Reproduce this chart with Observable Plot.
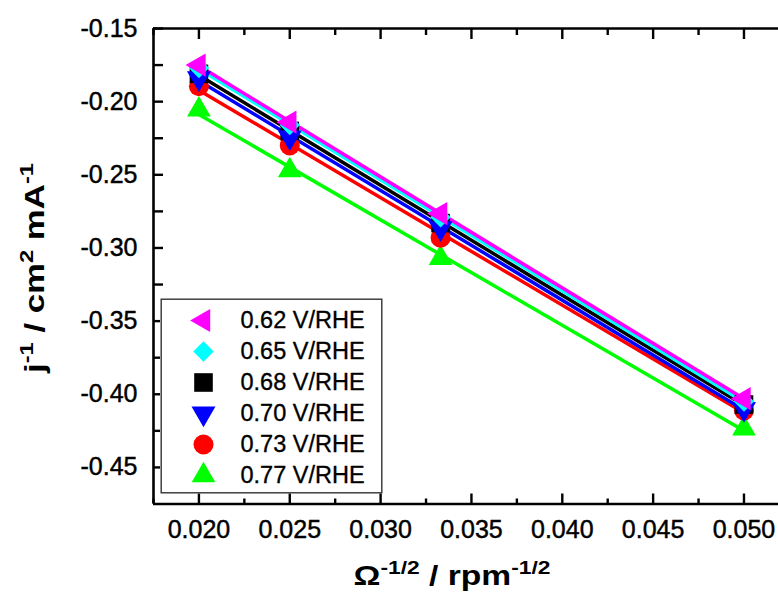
<!DOCTYPE html>
<html><head><meta charset="utf-8">
<script src="https://cdn.jsdelivr.net/npm/d3@7"></script>
<script src="https://cdn.jsdelivr.net/npm/@observablehq/plot@0.6"></script>
<style>
body{margin:0;background:#fff;}
#wrap{position:relative;width:778px;height:594px;overflow:hidden;}
#legend{position:absolute;left:160px;top:298px;}
svg{overflow:visible;}
</style></head><body><div id="wrap"><div id="chart"></div><div id="legend"></div></div>
<script>
// x: Ω^-1/2 (rpm^-1/2)
const omegaInvSqrt = [0.020, 0.025, 0.0333, 0.050];
// j^-1 values per potential
const j_062 = [-0.175, -0.214, -0.2765, -0.403];
const j_065 = [-0.177, -0.216, -0.279, -0.405];
const j_068 = [-0.181, -0.220, -0.283, -0.407];
const j_070 = [-0.184, -0.2245, -0.2865, -0.410];
const j_073 = [-0.1895, -0.230, -0.293, -0.411];
const j_077 = [-0.2055, -0.247, -0.307, -0.4235];
const potentials = ["0.62 V/RHE", "0.65 V/RHE", "0.68 V/RHE", "0.70 V/RHE", "0.73 V/RHE", "0.77 V/RHE"];
const colors = ["#ff00ff", "#00ffff", "#000000", "#0000ff", "#ff0000", "#00ff00"];
const symbols = ["triangle", "diamond2", "square", "triangle", "circle", "triangle"];
const rotations = [-90, 0, 0, 180, 0, 0];
const radii = [8.6, 9.2, 10.5, 8.9, 10, 8.8];
const xTicks = [0.020, 0.025, 0.030, 0.035, 0.040, 0.045, 0.050];
const xMinor = [0.0175, 0.0225, 0.0275, 0.0325, 0.0375, 0.0425, 0.0475];
const yTicks = [-0.15, -0.20, -0.25, -0.30, -0.35, -0.40, -0.45];
const yMinor = [-0.175, -0.225, -0.275, -0.325, -0.375, -0.425];
const xDomain = [0.0175, 0.0519];
const yDomain = [-0.475, -0.15];

const allValues = [j_062, j_065, j_068, j_070, j_073, j_077];
const series = potentials.map((name, i) => ({
  name, color: colors[i], symbol: symbols[i], rotate: rotations[i], r: radii[i],
  data: omegaInvSqrt.map((x, k) => ({x, y: allValues[i][k], name}))
}));

const FONT = "'Liberation Sans', Arial, sans-serif";
const lineOrder = [5, 4, 3, 2, 1, 0];
const dotOrder = [5, 4, 2, 3, 1, 0];
const lineMarks = lineOrder.map(i => Plot.linearRegressionY(series[i].data, {x: "x", y: "y", stroke: series[i].color, strokeWidth: 3.5, ci: 0}));
const dotMarks = dotOrder.map(i => {
  const s = series[i];
  return Plot.dot(s.data, {x: "x", y: "y", fill: s.color, symbol: s.symbol, rotate: s.rotate, r: s.r, stroke: "none"});
});

const chart = Plot.plot({
  width: 778, height: 594,
  marginTop: 28, marginBottom: 90.5, marginLeft: 153, marginRight: 0,
  x: {domain: xDomain},
  y: {domain: yDomain},
  style: {fontFamily: FONT, fontSize: "25px", color: "#000", background: "#fff"},
  marks: [
    ...lineMarks,
    ...dotMarks,
    Plot.ruleY([yDomain[0], yDomain[1]], {stroke: "#000", strokeWidth: 2.6}),
    Plot.ruleX([xDomain[0]], {stroke: "#000", strokeWidth: 2.6}),
    Plot.axisY(yTicks, {anchor: "left", tickSize: -10, tickPadding: 26, tickFormat: d => d.toFixed(2), fontSize: 25, strokeWidth: 2.4, label: null}),
    Plot.axisY(yMinor, {anchor: "left", tickSize: -10, tickFormat: () => "", strokeWidth: 2.4, label: null}),
    Plot.axisX(xTicks, {anchor: "bottom", tickSize: -10, tickPadding: 26, tickFormat: d3.format(".3f"), fontSize: 25, strokeWidth: 2.4, label: null}),
    Plot.axisX(xMinor, {anchor: "bottom", tickSize: -5, tickFormat: () => "", strokeWidth: 2.4, label: null}),
    Plot.axisX(xTicks, {anchor: "top", tickSize: -10, tickFormat: () => "", strokeWidth: 2.4, label: null}),
    Plot.axisX(xMinor, {anchor: "top", tickSize: -6, tickFormat: () => "", strokeWidth: 2.4, label: null})
  ]
});
document.getElementById("chart").appendChild(chart);

const svg = d3.select(chart);
// slightly heavier tick labels, like the reference rendering
svg.selectAll('g[aria-label$="tick label"] text').attr("stroke", "#000").attr("stroke-width", 0.45);

// axis titles with superscripts
function title(g, parts, attrs) {
  const t = g.append("text").attr("font-family", FONT).attr("font-weight", "bold").attr("fill", "#000");
  Object.entries(attrs).forEach(([k, v]) => t.attr(k, v));
  let up = false;
  parts.forEach(([txt, sup]) => {
    const ts = t.append("tspan").text(txt);
    if (sup && !up) { ts.attr("dy", -11).attr("font-size", 19); up = true; }
    else if (sup && up) { ts.attr("font-size", 19); }
    else if (!sup && up) { ts.attr("dy", 11); up = false; }
  });
  return t;
}
title(svg, [["Ω", false], ["-1/2", true], [" / rpm", false], ["-1/2", true]],
  {x: 452, y: 585, "text-anchor": "middle", "font-size": 28, textLength: 197, lengthAdjust: "spacingAndGlyphs"});
title(svg, [["j", false], ["-1", true], [" / cm", false], ["2", true], [" mA", false], ["-1", true]],
  {transform: "translate(44,268) rotate(-90)", "text-anchor": "middle", "font-size": 28, textLength: 210, lengthAdjust: "spacingAndGlyphs"});

// legend
const legendRows = series.map(s => ({name: s.name}));
const legendMarks = [Plot.frame({stroke: "#333", strokeWidth: 1.4, inset: 0.7})];
series.forEach(s => {
  legendMarks.push(Plot.dot([{name: s.name}], {y: "name", frameAnchor: "left", dx: 43, fill: s.color, symbol: s.symbol, rotate: s.rotate, r: s.r, stroke: "none"}));
});
legendMarks.push(Plot.text(legendRows, {y: "name", text: "name", frameAnchor: "left", dx: 80, textAnchor: "start", fontSize: 23.5, fill: "#000", stroke: "#000", strokeWidth: 0.35}));
const legend = Plot.plot({
  width: 222, height: 195, margin: 0,
  y: {type: "point", domain: potentials, range: [22, 177], padding: 0, axis: null},
  style: {fontFamily: FONT, fontSize: "23.5px", background: "#fff", color: "#000"},
  marks: legendMarks
});
document.getElementById("legend").appendChild(legend);
</script></body></html>
